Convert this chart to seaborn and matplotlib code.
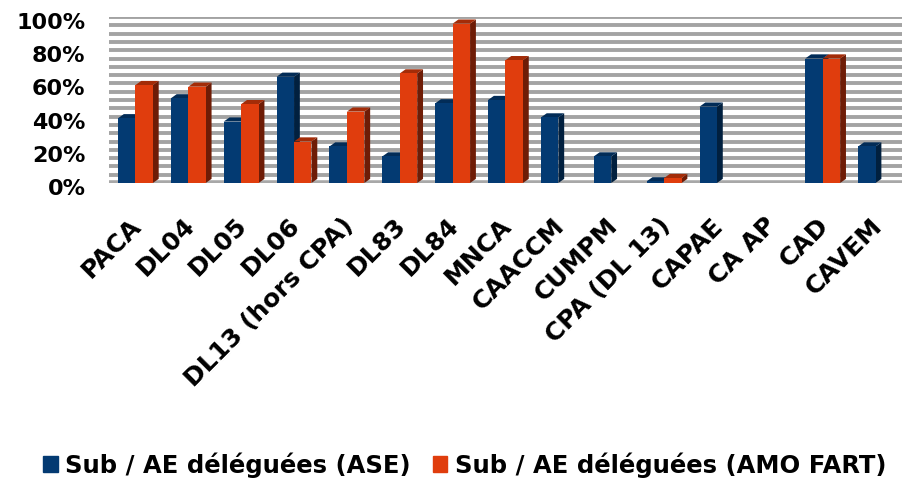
import pandas as pd
import matplotlib
matplotlib.use("Agg")
import matplotlib.pyplot as plt
import seaborn as sns
from matplotlib.patches import Polygon
from matplotlib.transforms import ScaledTranslation

# Data (in %)
territoires = ["PACA", "DL04", "DL05", "DL06", "DL13 (hors CPA)", "DL83", "DL84", "MNCA",
               "CAACCM", "CUMPM", "CPA (DL 13)", "CAPAE", "CA AP", "CAD", "CAVEM"]
ase = [39, 51, 37, 64, 22, 16, 48, 50, 39.5, 16, 1, 46, 0, 75, 22]
amo_fart = [59, 58, 47.5, 25, 43, 66, 96, 74, 0, 0, 3, 0, 0, 75, 0]
series = ["Sub / AE déléguées (ASE)", "Sub / AE déléguées (AMO FART)"]
colors = ["#033a72", "#e03d0d"]
side_colors = ["#01203f", "#6e1c06"]
top_colors = ["#022c57", "#a32c08"]

df = pd.DataFrame({
    "territoire": territoires * 2,
    "serie": [series[0]] * len(ase) + [series[1]] * len(amo_fart),
    "valeur": ase + amo_fart,
})

sns.set_style("white")
plt.rcParams["font.family"] = ["DejaVu Sans"]
plt.rcParams["text.color"] = "black"
plt.rcParams["xtick.color"] = "black"
plt.rcParams["ytick.color"] = "black"

fig = plt.figure(figsize=(9.04, 4.78), dpi=100)
ax = fig.add_axes([109 / 904, 1 - 183 / 478, (902 - 109) / 904, (183 - 17) / 478])

sns.barplot(data=df, x="territoire", y="valeur", hue="serie", palette=colors,
            width=0.66, saturation=1, ax=ax, zorder=3, legend=False)

# fake 3D faces built from the bars seaborn drew
dx, dy = 0.11, 2.5
for i, cont in enumerate(ax.containers):
    for bar in cont:
        x, w, h = bar.get_x(), bar.get_width(), bar.get_height()
        bar.set_edgecolor("none")
        if h <= 0:
            continue
        side = Polygon([(x + w, 0), (x + w + dx, dy), (x + w + dx, h + dy), (x + w, h)],
                       closed=True, facecolor=side_colors[i], edgecolor="none", zorder=2)
        top = Polygon([(x, h), (x + dx, h + dy), (x + w + dx, h + dy), (x + w, h)],
                      closed=True, facecolor=top_colors[i], edgecolor="none", zorder=2)
        ax.add_patch(side)
        ax.add_patch(top)

ax.set_xlim(-0.5, len(territoires) - 0.5)
ax.set_ylim(0, 100)
ax.set_yticks(range(0, 101, 20))
ax.set_yticks(range(0, 101, 5), minor=True)
ax.set_yticklabels([f"{v}%" for v in range(0, 101, 20)], fontsize=16, fontweight="bold",
                   color="black")
ax.yaxis.grid(True, which="both", color="#a3a3a3", linewidth=2.8, zorder=0)
ax.set_axisbelow(True)
ax.axhline(0, color="#a8a8a8", linewidth=4, zorder=1)
ax.tick_params(axis="y", which="both", length=0, pad=17)
ax.tick_params(axis="x", length=0, pad=22)
for lbl in ax.get_yticklabels():
    lbl.set_transform(lbl.get_transform() + ScaledTranslation(0, -0.04, fig.dpi_scale_trans))

ax.set_xticks(range(len(territoires)))
ax.set_xticklabels(territoires, rotation=45, ha="right", rotation_mode="anchor",
                   fontsize=18, fontweight="bold", color="black")
for lbl in ax.get_xticklabels():
    lbl.set_transform(lbl.get_transform() + ScaledTranslation(-0.06, 0, fig.dpi_scale_trans))
ax.set_xlabel("")
ax.set_ylabel("")
sns.despine(ax=ax, left=True, bottom=True)

handles = [plt.Rectangle((0, 0), 1, 1, color=c) for c in colors]
fig.legend(handles, series, loc="center", bbox_to_anchor=(0.514, 1 - 465 / 478),
           ncol=2, frameon=False, handlelength=0.6, handleheight=0.6,
           handletextpad=0.3, columnspacing=0.9, labelcolor="black",
           prop={"size": 17.5, "weight": "bold"})

fig.savefig("out.png", dpi=100)
